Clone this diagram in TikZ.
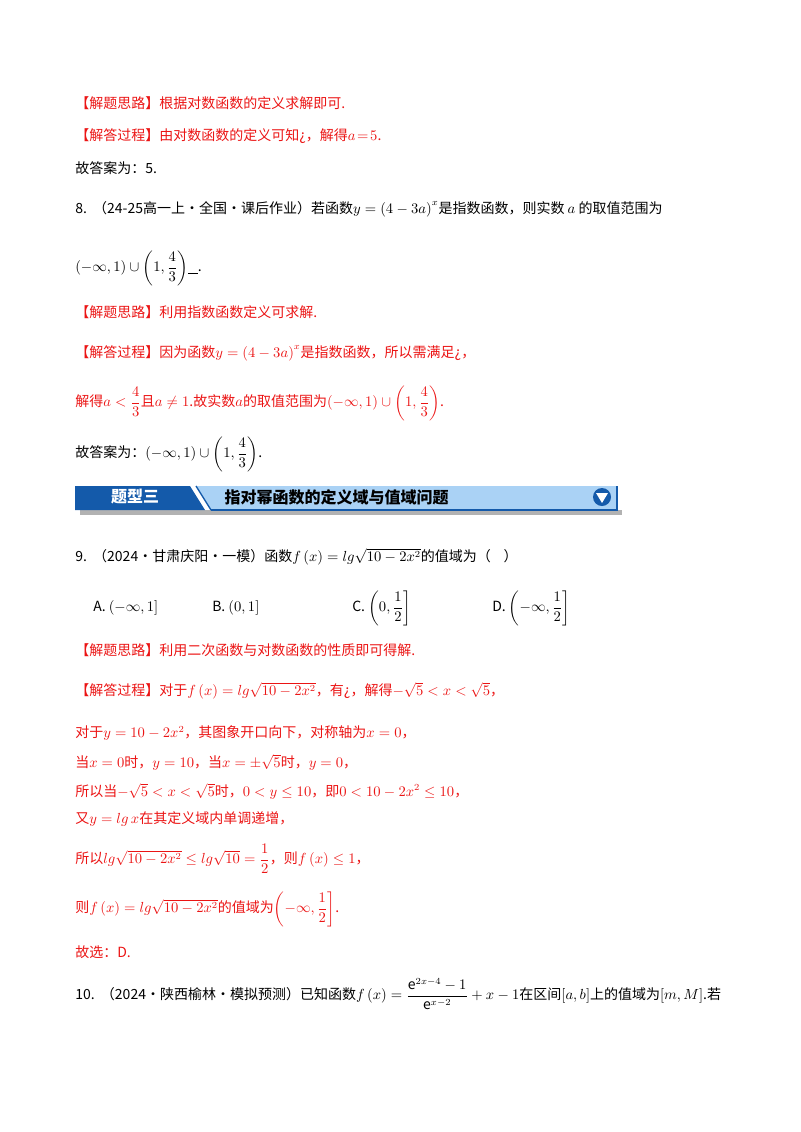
\documentclass[tikz,border=0pt]{standalone}
\usepackage{amsmath}
\usepackage{fontspec}
\setmainfont{Noto Sans CJK SC}
\definecolor{ansred}{RGB}{235,20,20}
\definecolor{bdark}{RGB}{20,90,170}
\definecolor{blight}{RGB}{170,210,245}
\begin{document}
\begin{tikzpicture}[x=0.75pt,y=-0.75pt,
  txt/.style={anchor=west,inner sep=0pt,font=\fontsize{10.5}{12}\selectfont},
  red/.style={txt,text=ansred}]
\useasboundingbox (0,0) rectangle (800,1132);
\node[red] (l1) at (75,103) {【解题思路】根据对数函数的定义求解即可.};
\node[red] (l2) at (75,136) {【解答过程】由对数函数的定义可知¿，解得$a\!=\!5$.};
\node[txt] (l3) at (75,168) {故答案为：5.};
\node[txt] (q8) at (75,209) {8.\ \ （24-25高一上·全国·课后作业）若函数$y=\left(4-3a\right)^x$是指数函数，则实数 $a$ 的取值范围为};
\node[txt] (a8) at (75,268) {$\left(-\infty,1\right)\cup\left(1,\dfrac{4}{3}\right)$\underline{\ \ \ }.};
\node[red] (l4) at (75,312) {【解题思路】利用指数函数定义可求解.};
\node[red] (l5) at (75,353) {【解答过程】因为函数$y=\left(4-3a\right)^x$是指数函数，所以需满足¿，};
\node[red] (l6) at (75,403) {解得$a<\dfrac{4}{3}$且$a\neq1$.故实数$a$的取值范围为$\left(-\infty,1\right)\cup\left(1,\dfrac{4}{3}\right)$.};
\node[txt] (l7) at (75,454) {故答案为：$\left(-\infty,1\right)\cup\left(1,\dfrac{4}{3}\right)$.};
% banner
\fill[gray!60] (80,510) -- (622,510) -- (622,515) -- (80,515) -- cycle;
\fill[bdark] (75,486) -- (190,486) -- (205,510) -- (75,510) -- cycle;
\fill[blight] (196,486) -- (617,486) -- (617,510) -- (211,510) -- cycle;
\draw[bdark,line width=1pt] (196,486) -- (211,510);
\draw[bdark,line width=0.8pt] (211,510) -- (617,510) -- (617,486);
\node[font=\fontsize{12}{14}\selectfont\bfseries,text=white] (bt) at (135,497) {题型三};
\node[anchor=west,font=\fontsize{12}{14}\selectfont\bfseries] (bt2) at (220,497) {指对幂函数的定义域与值域问题};
\fill[bdark] (602,497) circle (9);
\fill[white] (596,493) -- (608,493) -- (602,503) -- cycle;
\node[txt] (q9) at (75,557) {9.\ \ （2024·甘肃庆阳·一模）函数$f\left(x\right)=lg\sqrt{10-2x^2}$的值域为（\ \ \ \ ）};
\node[txt] (oa) at (93,608) {A.\ $\left(-\infty,1\right]$};
\node[txt] (ob) at (212,608) {B.\ $\left(0,1\right]$};
\node[txt] (oc) at (352,608) {C.\ $\left(0,\dfrac{1}{2}\right]$};
\node[txt] (od) at (492,608) {D.\ $\left(-\infty,\dfrac{1}{2}\right]$};
\node[red] (m1) at (75,650) {【解题思路】利用二次函数与对数函数的性质即可得解.};
\node[red] (m2) at (75,691) {【解答过程】对于$f\left(x\right)=lg\sqrt{10-2x^2}$，有¿，解得$-\sqrt5<x<\sqrt5$，};
\node[red] (m3) at (75,733) {对于$y=10-2x^2$，其图象开口向下，对称轴为$x=0$，};
\node[red] (m4) at (75,762) {当$x=0$时，$y=10$，当$x=\pm\sqrt5$时，$y=0$，};
\node[red] (m5) at (75,791) {所以当$-\sqrt5<x<\sqrt5$时，$0<y\le10$，即$0<10-2x^2\le10$，};
\node[red] (m6) at (75,819) {又$y=lg\,x$在其定义域内单调递增，};
\node[red] (m7) at (75,859) {所以$lg\sqrt{10-2x^2}\le lg\sqrt{10}=\dfrac{1}{2}$，则$f\left(x\right)\le1$，};
\node[red] (m8) at (75,909) {则$f\left(x\right)=lg\sqrt{10-2x^2}$的值域为$\left(-\infty,\dfrac{1}{2}\right]$.};
\node[red] (m9) at (75,952) {故选：D.};
\node[txt] (q10) at (75,994) {10.\ \ （2024·陕西榆林·模拟预测）已知函数$f\left(x\right)=\dfrac{\mathrm{e}^{2x-4}-1}{\mathrm{e}^{x-2}}+x-1$在区间$\left[a,b\right]$上的值域为$\left[m,M\right]$.若};
\end{tikzpicture}
\end{document}
